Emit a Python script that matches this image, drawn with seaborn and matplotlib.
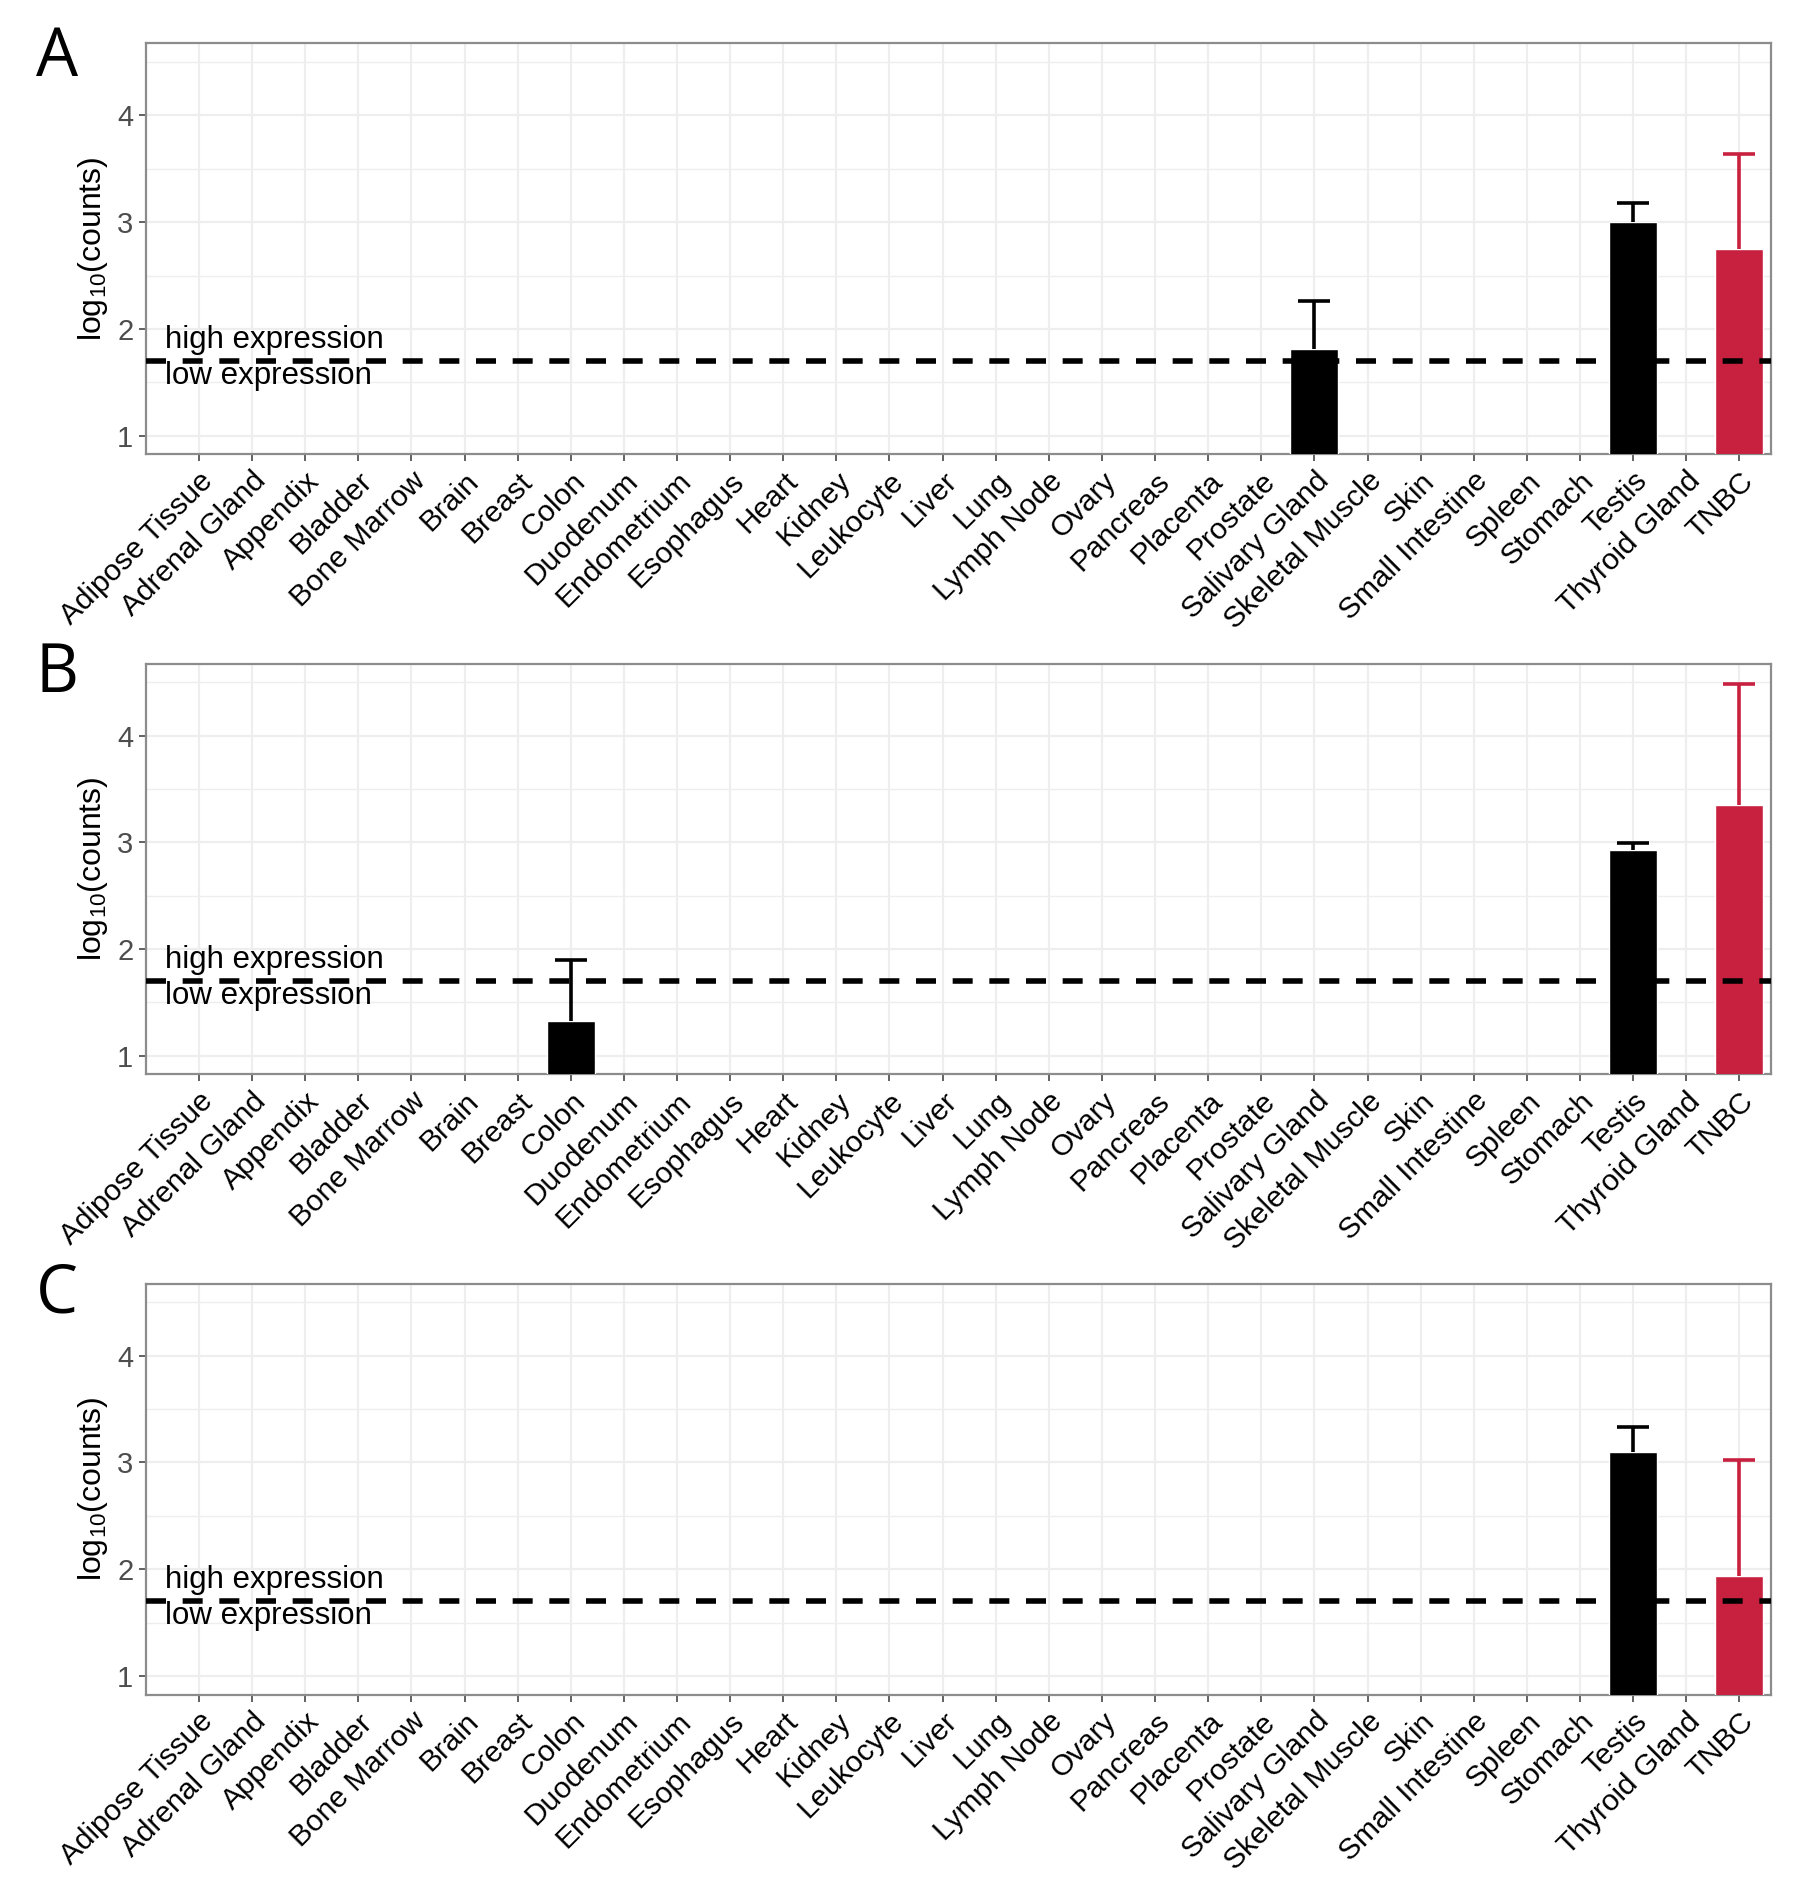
import numpy as np
import pandas as pd
import matplotlib
matplotlib.use("Agg")
import matplotlib.pyplot as plt
import seaborn as sns

tissues = ["Adipose Tissue", "Adrenal Gland", "Appendix", "Bladder", "Bone Marrow",
           "Brain", "Breast", "Colon", "Duodenum", "Endometrium", "Esophagus", "Heart",
           "Kidney", "Leukocyte", "Liver", "Lung", "Lymph Node", "Ovary", "Pancreas",
           "Placenta", "Prostate", "Salivary Gland", "Skeletal Muscle", "Skin",
           "Small Intestine", "Spleen", "Stomach", "Testis", "Thyroid Gland", "TNBC"]

# log10(counts) mean and upper error bar, only tissues with detected expression
panel_a_mean = {"Salivary Gland": 1.81, "Testis": 3.00, "TNBC": 2.75}
panel_a_upper = {"Salivary Gland": 2.26, "Testis": 3.18, "TNBC": 3.64}
panel_b_mean = {"Colon": 1.33, "Testis": 2.93, "TNBC": 3.35}
panel_b_upper = {"Colon": 1.90, "Testis": 2.99, "TNBC": 4.48}
panel_c_mean = {"Testis": 3.10, "TNBC": 1.94}
panel_c_upper = {"Testis": 3.33, "TNBC": 3.02}

panel_letters = ["A", "B", "C"]
threshold = 1.7

RED = "#C8213F"
GRID = "#EEEEEE"

sns.set_style("white")
plt.rcParams['font.family'] = ['Liberation Sans', 'DejaVu Sans']
plt.rcParams['mathtext.fontset'] = 'custom'
plt.rcParams['mathtext.rm'] = 'Liberation Sans'
plt.rcParams['text.color'] = 'black'
plt.rcParams['axes.labelcolor'] = 'black'

fig = plt.figure(figsize=(18, 18.85), dpi=100)

panels = [(panel_a_mean, panel_a_upper), (panel_b_mean, panel_b_upper),
          (panel_c_mean, panel_c_upper)]
bottoms = [0.759, 0.430, 0.101]
letter_y = [0.987, 0.660, 0.331]

for (means, uppers), bot, letter, ly in zip(panels, bottoms, panel_letters, letter_y):
    ax = fig.add_axes([0.081, bot, 0.903, 0.218])
    df = pd.DataFrame({"tissue": tissues,
                       "value": [means.get(t, np.nan) for t in tissues]})
    colors = {t: (RED if t == "TNBC" else "black") for t in tissues}
    sns.barplot(data=df, x="tissue", y="value", hue="tissue", palette=colors,
                order=tissues, width=0.9, saturation=1, legend=False, ax=ax,
                zorder=3)

    # upper-only error bars
    for t in means:
        i = tissues.index(t)
        c = colors[t]
        ax.vlines(i, means[t], uppers[t], color=c, lw=2.6, zorder=4)
        ax.hlines(uppers[t], i - 0.3, i + 0.3, color=c, lw=2.6, zorder=4)

    ax.axhline(threshold, color="black", lw=4, ls=(0, (3.6, 3.0)), zorder=5)
    ax.text(-0.64, threshold + 0.2, "high expression", fontsize=22.5, va="center",
            ha="left", zorder=6)
    ax.text(-0.64, threshold - 0.14, "low expression", fontsize=22.5, va="center",
            ha="left", zorder=6)

    ax.set_xlim(-1.0, len(tissues) - 0.4)
    ax.set_ylim(0.825, 4.675)
    ax.set_yticks([1, 2, 3, 4])
    ax.set_yticks([1.5, 2.5, 3.5, 4.5], minor=True)
    ax.set_xticks(range(len(tissues)))
    ax.set_xticklabels(tissues, rotation=45, ha="right", rotation_mode="anchor",
                       fontsize=21.5, color="black")
    ax.tick_params(axis="y", labelsize=21, labelcolor="#4D4D4D")
    ax.tick_params(axis="both", which="major", length=5, width=1.3,
                   color="#555555", pad=4, bottom=True, left=True)
    ax.tick_params(axis="y", which="minor", length=0)
    ax.grid(True, which="major", color=GRID, lw=1.6, zorder=0)
    ax.grid(True, which="minor", axis="y", color=GRID, lw=1.0, zorder=0)
    ax.set_axisbelow(True)
    for s in ax.spines.values():
        s.set_color("#8C8C8C")
        s.set_linewidth(1.6)
    ax.set_xlabel("")
    ax.set_ylabel(r"log$_{\mathregular{10}}$(counts)", fontsize=23, labelpad=5)

    fig.text(0.02, ly, letter, fontsize=48, va="top", ha="left",
             family=['Open Sans', 'DejaVu Sans'])

fig.savefig("out.png", dpi=100)
